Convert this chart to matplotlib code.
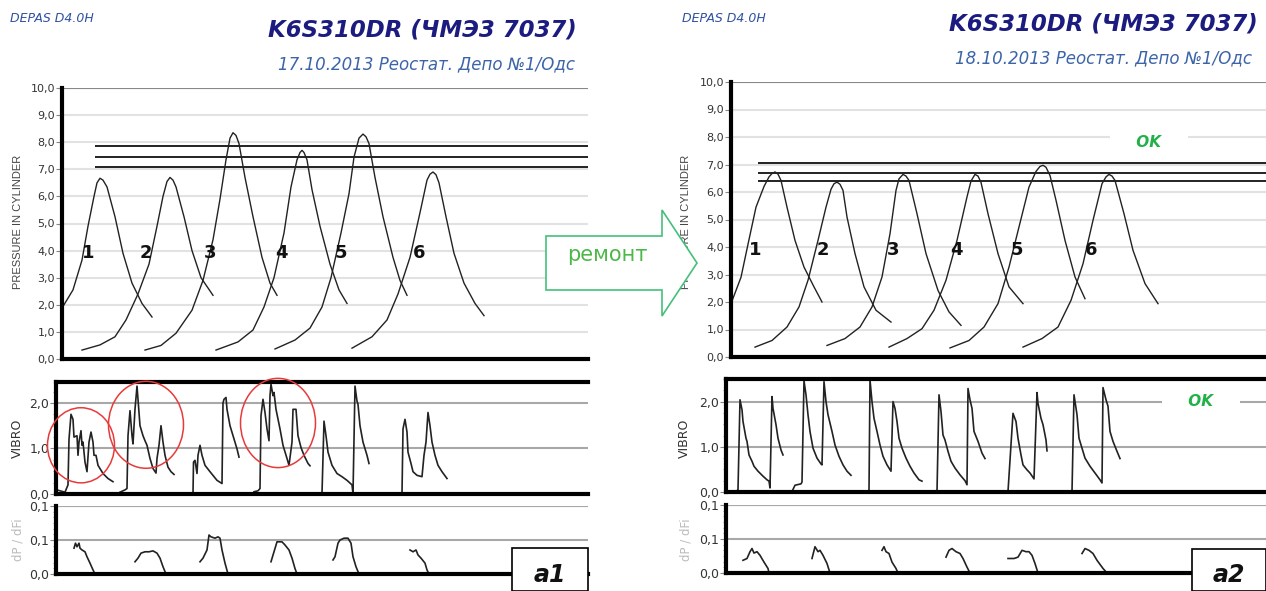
import matplotlib
matplotlib.use("Agg")
import matplotlib.pyplot as plt
from matplotlib.patches import Ellipse, Polygon, Rectangle
from matplotlib.ticker import FuncFormatter, MultipleLocator

W, H = 1266, 591

# position scale: crank position along the record (same for all three strips)
# ---------- 17.10.2013 (before repair) ----------
left_press_x = [
    [62, 73, 82, 88, 94, 97, 100, 103, 107, 115, 123, 132, 142, 152],
    [82, 100, 115, 126, 138, 149, 157, 163, 167, 170, 173, 176, 184, 192, 201, 213],
    [145, 161, 176, 192, 203, 213, 220, 226, 230, 233, 236, 239, 245, 253, 262, 270, 277],
    [216, 238, 253, 264, 274, 284, 291, 297, 300, 302, 304, 307, 312, 320, 330, 339, 347],
    [275, 295, 310, 322, 331, 341, 349, 354, 359, 363, 366, 369, 375, 383, 393, 400, 407],
    [352, 372, 387, 398, 410, 420, 427, 430, 433, 436, 439, 446, 454, 464, 475, 484],
]
left_press_y = [
    [1.88, 2.55, 3.65, 4.9, 6.0, 6.5, 6.67, 6.6, 6.35, 5.25, 3.9, 2.8, 2.05, 1.55],
    [0.33, 0.52, 0.82, 1.44, 2.4, 3.5, 4.9, 6.0, 6.55, 6.7, 6.6, 6.35, 5.25, 4.0, 3.0, 2.35],
    [0.33, 0.5, 0.95, 1.8, 2.9, 4.4, 5.9, 7.35, 8.15, 8.35, 8.25, 7.95, 6.7, 5.25, 3.75, 2.8, 2.35],
    [0.33, 0.63, 1.07, 1.92, 3.0, 4.65, 6.35, 7.35, 7.62, 7.7, 7.62, 7.35, 6.25, 4.9, 3.5, 2.55, 2.05],
    [0.37, 0.7, 1.14, 1.92, 3.0, 4.65, 6.1, 7.45, 8.15, 8.3, 8.2, 7.95, 6.7, 5.25, 3.75, 2.9, 2.35],
    [0.4, 0.82, 1.44, 2.4, 3.75, 5.4, 6.6, 6.82, 6.9, 6.8, 6.5, 5.25, 3.9, 2.8, 2.05, 1.6],
]
left_limits = [7.86, 7.45, 7.1]

left_vib_x = [
    [57, 60, 65, 68, 69, 71, 73, 74, 77, 78, 79, 81, 82, 83, 85, 87, 89, 91, 93, 94, 96, 98, 103, 108, 113],
    [120, 125, 127, 128, 130, 132, 133, 135, 137, 138, 140, 143, 145, 147, 150, 153, 156, 157, 159, 161, 163, 165, 168, 171, 174],
    [193, 193.5, 195, 197, 198, 200, 202, 205, 210, 217, 222, 223, 224, 226, 227, 230, 234, 237, 239],
    [254, 258, 260, 261, 263, 265, 267, 269, 270, 271, 273, 274, 276, 280, 283, 287, 289, 292, 293, 296, 298, 301, 304, 308, 310],
    [322, 324, 326, 328, 332, 337, 342, 347, 352, 353, 355, 357, 358, 360, 363, 367, 369],
    [402, 403, 405, 407, 408, 411, 413, 417, 422, 424, 426, 428, 430, 432, 435, 438, 442, 447],
]
left_vib_y = [
    [0.09, 0.07, 0.04, 0.2, 1.2, 1.75, 1.64, 1.25, 1.28, 0.85, 1.14, 1.39, 1.07, 1.14, 0.7, 0.49, 1.14, 1.36, 1.14, 0.85, 0.85, 0.63, 0.45, 0.34, 0.27],
    [0.04, 0.09, 0.12, 1.28, 1.83, 1.28, 1.1, 1.86, 2.37, 2.08, 1.5, 1.28, 1.17, 1.07, 0.78, 0.56, 0.46, 0.78, 1.07, 1.5, 1.14, 0.85, 0.59, 0.49, 0.43],
    [0.01, 0.7, 0.74, 0.45, 0.85, 1.07, 0.85, 0.63, 0.49, 0.3, 0.23, 2.0, 2.08, 2.12, 1.86, 1.5, 1.21, 0.99, 0.81],
    [0.05, 0.07, 0.12, 1.72, 2.08, 1.79, 1.43, 1.17, 2.16, 2.41, 2.16, 2.23, 1.86, 1.43, 1.07, 0.78, 0.63, 1.14, 1.86, 1.86, 1.28, 1.02, 0.85, 0.67, 0.62],
    [0.01, 1.6, 1.28, 0.92, 0.63, 0.45, 0.38, 0.3, 0.2, 0.01, 2.37, 2.04, 1.97, 1.5, 1.14, 0.85, 0.67],
    [0.01, 1.43, 1.64, 1.36, 0.92, 0.67, 0.49, 0.41, 0.38, 0.85, 1.14, 1.79, 1.5, 1.14, 0.85, 0.63, 0.49, 0.34],
]

left_dp_x = [
    [74, 75.5, 77, 79, 80, 82, 85, 87, 90, 93, 95],
    [135, 138, 141, 145, 149, 153, 157, 160, 163, 166],
    [200, 203, 207, 209, 211, 215, 218, 220, 222, 225, 228],
    [271, 274, 277, 282, 285, 289, 292, 295, 297],
    [333, 335, 338, 340, 344, 348, 351, 353, 356, 359],
    [410, 413, 416, 418, 421, 425, 427, 429],
]
left_dp_y = [
    [0.057, 0.068, 0.06, 0.068, 0.057, 0.053, 0.049, 0.038, 0.024, 0.009, 0.0],
    [0.027, 0.035, 0.046, 0.049, 0.049, 0.051, 0.046, 0.035, 0.016, 0.0],
    [0.027, 0.035, 0.053, 0.086, 0.082, 0.079, 0.082, 0.079, 0.053, 0.024, 0.0],
    [0.027, 0.049, 0.071, 0.071, 0.064, 0.053, 0.035, 0.012, 0.0],
    [0.031, 0.038, 0.068, 0.075, 0.079, 0.079, 0.068, 0.038, 0.016, 0.0],
    [0.053, 0.049, 0.053, 0.042, 0.035, 0.024, 0.009, 0.0],
]

# suspicious cylinders marked in red: centre x, centre y, width, height
circle_x = [81, 146, 278]
circle_y = [1.07, 1.52, 1.56]
circle_w = [67, 75, 75]
circle_h = [1.65, 1.91, 1.96]

# ---------- 18.10.2013 (after repair) ----------
right_press_x = [
    [731, 741, 748, 756, 764, 769, 772, 775, 778, 781, 787, 795, 804, 814, 822],
    [755, 772, 787, 799, 808, 818, 826, 831, 834, 837, 840, 843, 847, 855, 864, 876, 891],
    [827, 845, 860, 872, 882, 890, 896, 899, 903, 906, 909, 917, 926, 938, 949, 961],
    [889, 907, 922, 934, 946, 957, 967, 971, 975, 978, 981, 988, 998, 1009, 1023],
    [950, 969, 984, 998, 1009, 1019, 1029, 1036, 1040, 1043, 1046, 1050, 1056, 1065, 1075, 1085],
    [1023, 1042, 1058, 1071, 1083, 1093, 1102, 1106, 1109, 1112, 1115, 1124, 1133, 1145, 1158],
]
right_press_y = [
    [1.94, 2.9, 4.1, 5.45, 6.2, 6.55, 6.67, 6.73, 6.65, 6.42, 5.45, 4.24, 3.27, 2.55, 2.0],
    [0.36, 0.6, 1.09, 1.82, 2.79, 4.24, 5.45, 6.1, 6.3, 6.36, 6.28, 6.06, 5.09, 3.76, 2.55, 1.7, 1.27],
    [0.42, 0.67, 1.09, 1.82, 2.91, 4.48, 6.06, 6.48, 6.64, 6.58, 6.42, 5.21, 3.76, 2.42, 1.64, 1.15],
    [0.36, 0.67, 1.03, 1.7, 2.79, 4.24, 5.82, 6.4, 6.64, 6.58, 6.35, 5.21, 3.76, 2.55, 1.94],
    [0.33, 0.6, 1.09, 1.94, 3.27, 4.73, 6.18, 6.75, 6.93, 6.97, 6.9, 6.6, 5.7, 4.24, 2.91, 2.12],
    [0.36, 0.67, 1.09, 2.06, 3.39, 4.97, 6.3, 6.55, 6.64, 6.58, 6.42, 5.21, 3.88, 2.67, 1.94],
]
right_limits = [7.04, 6.7, 6.39]

right_vib_x = [
    [736, 738, 740, 742, 743, 746, 747, 749, 752, 754, 758, 763, 767, 769, 770, 772, 773, 776, 778, 781, 783],
    [792, 795, 801, 802, 804, 806, 808, 810, 813, 817, 821, 822, 824, 826, 828, 832, 835, 839, 843, 847, 851],
    [867, 869, 870, 872, 874, 877, 880, 883, 887, 891, 893, 895, 897, 899, 902, 906, 910, 914, 919, 922],
    [937, 939, 941, 943, 945, 948, 951, 955, 960, 965, 967, 968, 970, 972, 974, 978, 982, 985],
    [1008, 1013, 1016, 1018, 1021, 1023, 1027, 1030, 1034, 1037, 1038, 1041, 1043, 1046, 1047],
    [1072, 1074, 1077, 1079, 1082, 1085, 1090, 1095, 1100, 1102, 1103, 1106, 1108, 1110, 1113, 1117, 1120],
]
right_vib_y = [
    [0.01, 0.05, 2.04, 1.82, 1.56, 1.19, 1.12, 0.82, 0.68, 0.57, 0.46, 0.35, 0.27, 0.24, 0.09, 2.11, 1.85, 1.49, 1.19, 0.93, 0.82],
    [0.01, 0.15, 0.18, 0.22, 2.46, 2.15, 1.71, 1.34, 0.97, 0.75, 0.62, 0.6, 2.44, 2.0, 1.71, 1.34, 1.04, 0.79, 0.6, 0.46, 0.37],
    [0.01, 0.03, 2.48, 2.0, 1.63, 1.34, 1.04, 0.79, 0.6, 0.46, 2.0, 1.85, 1.56, 1.19, 0.97, 0.75, 0.57, 0.42, 0.27, 0.24],
    [0.01, 2.15, 1.78, 1.26, 1.15, 0.9, 0.68, 0.53, 0.38, 0.25, 0.16, 2.29, 2.04, 1.85, 1.34, 1.12, 0.86, 0.74],
    [0.01, 1.74, 1.56, 1.19, 0.82, 0.6, 0.49, 0.42, 0.29, 2.2, 1.96, 1.63, 1.49, 1.15, 0.91],
    [0.01, 2.15, 1.71, 1.19, 0.97, 0.75, 0.57, 0.42, 0.27, 0.2, 2.31, 2.04, 1.9, 1.34, 1.12, 0.9, 0.74],
]

right_dp_x = [
    [743, 747, 750, 752, 754, 757, 760, 764, 768, 769],
    [812, 815, 818, 820, 823, 827, 830],
    [882, 884, 886, 889, 892, 896, 898],
    [946, 949, 952, 956, 960, 963, 967, 970],
    [1008, 1014, 1018, 1022, 1026, 1029, 1032, 1035, 1038],
    [1082, 1085, 1089, 1093, 1097, 1103, 1107],
]
right_dp_y = [
    [0.028, 0.032, 0.047, 0.054, 0.044, 0.047, 0.039, 0.024, 0.01, 0.0],
    [0.032, 0.058, 0.047, 0.05, 0.039, 0.021, 0.0],
    [0.05, 0.058, 0.047, 0.043, 0.024, 0.01, 0.0],
    [0.035, 0.05, 0.054, 0.047, 0.043, 0.032, 0.013, 0.0],
    [0.032, 0.032, 0.035, 0.05, 0.047, 0.047, 0.039, 0.021, 0.0],
    [0.043, 0.054, 0.05, 0.043, 0.028, 0.01, 0.0],
]

cyl_labels = ["1", "2", "3", "4", "5", "6"]
left_label_x = [88, 146, 210, 281, 341, 419]
right_label_x = [755, 823, 893, 956, 1017, 1091]


def comma(v, _):
    return ("%.1f" % v).replace(".", ",")


fig = plt.figure(figsize=(W / 100, H / 100), dpi=100)
fig.patch.set_facecolor("white")


def px_axes(x0, y0, x1, y1):
    return fig.add_axes([x0 / W, 1 - y1 / H, (x1 - x0) / W, (y1 - y0) / H])


def style_axes(ax, ticks, ylim, grid_col, top_black, lsize):
    ax.set_ylim(*ylim)
    ax.set_yticks(ticks)
    ax.yaxis.set_major_formatter(FuncFormatter(comma))
    ax.set_xticks([])
    for s in ["right", "top"]:
        ax.spines[s].set_visible(False)
    ax.spines["left"].set_linewidth(3)
    ax.spines["bottom"].set_linewidth(3)
    ax.tick_params(axis="y", length=4, width=0.8, color="#888888", labelsize=lsize,
                   labelcolor="#333333", pad=1)
    for t in ticks[1:]:
        ax.axhline(t, color=grid_col, lw=1.5, zorder=0)
    if top_black:
        ax.spines["top"].set_visible(True)
        ax.spines["top"].set_linewidth(3)
    ax.set_facecolor("none")


def draw_panel(side):
    if side == "left":
        x0, x1 = 62, 588
        xs0 = 56
        top_box = (88, 359)
        vib_box = (382, 494)
        dp_box = (506, 574)
        vib_top = 2.46
        px, py, lims = left_press_x, left_press_y, left_limits
        vx, vy = left_vib_x, left_vib_y
        dx, dy = left_dp_x, left_dp_y
        lab_x = left_label_x
        lim_start = 95
        depas_x, title_x, sub_x = 10, 577, 575
        title_y, sub_y = 30, 64
        date = "17.10.2013"
        ylab_x, vlab_x, dlab_x = 18, 17, 18
        box = (512, 548, 588, "a1")
    else:
        x0, x1 = 731, 1266
        xs0 = 726
        top_box = (82, 357)
        vib_box = (379, 492)
        dp_box = (505, 573)
        vib_top = 2.5
        px, py, lims = right_press_x, right_press_y, right_limits
        vx, vy = right_vib_x, right_vib_y
        dx, dy = right_dp_x, right_dp_y
        lab_x = right_label_x
        lim_start = 758
        depas_x, title_x, sub_x = 682, 1258, 1252
        title_y, sub_y = 24, 58
        date = "18.10.2013"
        ylab_x, vlab_x, dlab_x = 686, 684, 686
        box = (1192, 549, 1266, "a2")

    # pressure in cylinder
    ax = px_axes(x0, top_box[0], x1, top_box[1])
    style_axes(ax, [0, 1, 2, 3, 4, 5, 6, 7, 8, 9, 10], (0, 10), "#e2e2e2", False, 8)
    ax.axhline(10, color="#888888", lw=1.5, zorder=0)
    ax.set_xlim(x0, x1)
    for xs, ys in zip(px, py):
        ax.plot(xs, ys, color="#222222", lw=1.0)
    ax.hlines(lims, lim_start, x1, color="#222222", lw=1.4)
    for lbl, lx in zip(cyl_labels, lab_x):
        ax.text(lx, 3.9, lbl, fontsize=13, fontweight="bold", ha="center", va="center",
                color="#111111")
    if side == "right":
        ax.text(1149, 7.8, "     OK     ", fontsize=11, fontweight="bold", style="italic",
                color="#22b04a", ha="center", va="center",
                bbox=dict(facecolor="white", edgecolor="none", pad=0.5))

    # vibro
    axv = px_axes(xs0, vib_box[0], x1, vib_box[1])
    style_axes(axv, [0, 1, 2], (0, vib_top), "#a8a8a8", True, 9)
    axv.yaxis.set_minor_locator(MultipleLocator(0.25))
    axv.tick_params(axis="y", which="minor", length=2, color="#888888")
    axv.set_xlim(xs0, x1)
    for xs, ys in zip(vx, vy):
        axv.plot(xs, ys, color="#222222", lw=1.2)
    if side == "left":
        for cx, cy, cw, ch in zip(circle_x, circle_y, circle_w, circle_h):
            axv.add_patch(Ellipse((cx, cy), cw, ch, fill=False, edgecolor="#e83a3a",
                                  lw=1.1, clip_on=False, zorder=5))
    else:
        axv.text(1201, 2.0, "     OK     ", fontsize=11, fontweight="bold", style="italic",
                 color="#22b04a", ha="center", va="center",
                 bbox=dict(facecolor="white", edgecolor="none", pad=0.5))

    # dP / dFi
    axd = px_axes(xs0, dp_box[0], x1, dp_box[1])
    style_axes(axd, [0, 0.075, 0.15], (0, 0.15), "#a8a8a8", False, 9)
    axd.axhline(0.15, color="#a8a8a8", lw=1.5, zorder=0)
    axd.yaxis.set_minor_locator(MultipleLocator(0.0125))
    axd.tick_params(axis="y", which="minor", length=2, color="#888888")
    axd.set_xlim(xs0, x1)
    for xs, ys in zip(dx, dy):
        axd.plot(xs, ys, color="#222222", lw=1.2)

    # axis titles (kept under the repair arrow)
    fig.text(ylab_x / W, 1 - 222 / H, "PRESSURE IN CYLINDER", rotation=90, fontsize=8,
             family="Liberation Sans", color="#444444", ha="center", va="center", zorder=1)
    fig.text(vlab_x / W, 1 - 438 / H, "VIBRO", rotation=90, fontsize=9,
             color="#333333", ha="center", va="center")
    fig.text(dlab_x / W, 1 - 540 / H, "dP / dFi", rotation=90, fontsize=8.5,
             color="#bbbbbb", ha="center", va="center")

    # headings
    fig.text(depas_x / W, 1 - 18 / H, "DEPAS D4.0H", fontsize=9, style="italic",
             color="#3050a0", ha="left", va="center")
    fig.text(title_x / W, 1 - title_y / H, "K6S310DR (ЧМЭ3 7037)", fontsize=16.5,
             fontweight="bold", style="italic", color="#1c1c80", ha="right", va="center")
    fig.text(sub_x / W, 1 - sub_y / H, date + " Реостат. Депо №1/Одс", fontsize=12,
             style="italic", color="#3c64a8", ha="right", va="center")

    # a1 / a2 tag
    bx0, by0, bx1, tag = box
    fig.patches.append(Rectangle((bx0 / W, 0), (bx1 - bx0) / W, 1 - by0 / H,
                                 transform=fig.transFigure, facecolor="white",
                                 edgecolor="black", lw=1.2, zorder=3))
    fig.text((bx0 + bx1) / 2 / W, 1 - 575 / H, tag, fontsize=17, fontweight="bold",
             style="italic", color="#111111", ha="center", va="center", zorder=4)


draw_panel("left")
draw_panel("right")

# repair arrow between the two records
arrow_px = [(546, 236), (662, 236), (662, 210), (697, 263), (662, 316), (662, 290), (546, 290)]
fig.patches.append(Polygon([(x / W, 1 - y / H) for x, y in arrow_px], closed=True,
                           transform=fig.transFigure, facecolor="white",
                           edgecolor="#45c07a", lw=1.2, zorder=3))
fig.text(607 / W, 1 - 255 / H, "ремонт", fontsize=15, color="#4cb848",
         ha="center", va="center", zorder=4)

fig.savefig("out.png", dpi=100)
